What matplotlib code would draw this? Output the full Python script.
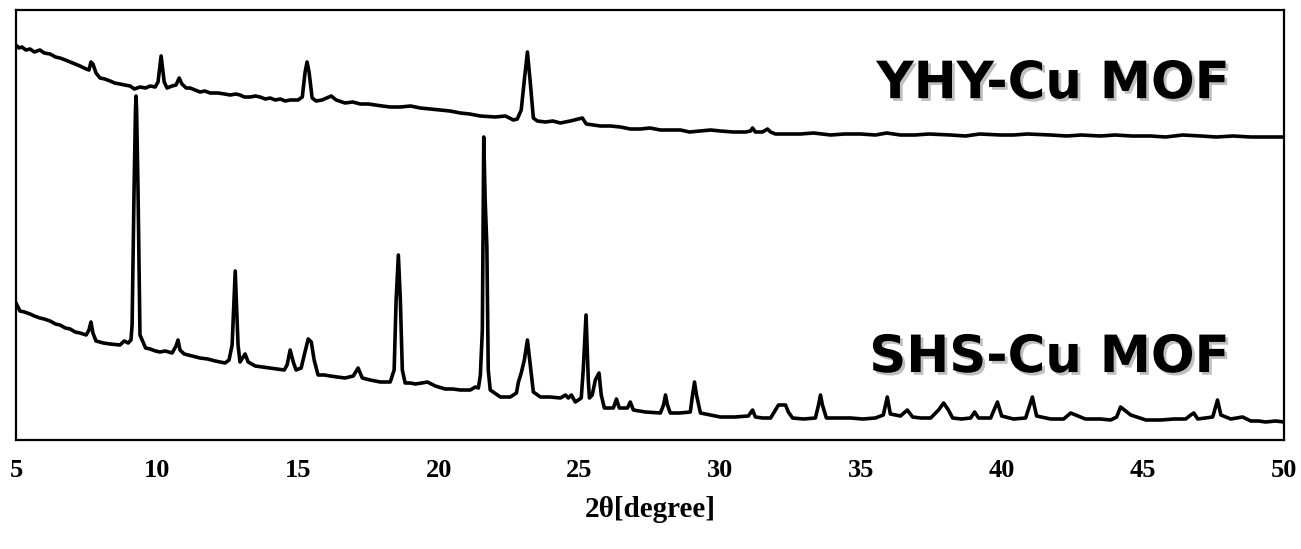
import matplotlib.pyplot as plt
import matplotlib.patheffects as pe

# 2theta [deg] and intensity [a.u.]
yhy_2theta = [5.00, 5.10, 5.21, 5.35, 5.50, 5.65, 5.85, 6.00, 6.21, 6.40, 6.56, 6.75, 6.92, 7.10,
              7.27, 7.49, 7.59, 7.66, 7.73, 7.84, 7.98, 8.15,
              8.34, 8.50, 8.69, 8.85, 9.05, 9.20, 9.40, 9.60, 9.76, 9.94, 10.04, 10.15, 10.26, 10.36,
              10.54, 10.68, 10.79,
              10.89, 11.04, 11.18, 11.35, 11.53, 11.70, 11.89, 12.17, 12.40, 12.60, 12.80, 12.95,
              13.10, 13.31, 13.50, 13.66, 13.85, 14.02, 14.20, 14.38,
              14.55, 14.73, 15.01, 15.16, 15.26, 15.33, 15.40, 15.51, 15.65, 15.86, 16.19, 16.36,
              16.68, 16.95, 17.22, 17.50, 17.75, 18.00, 18.28, 18.64, 19.00, 19.35, 19.70, 20.06,
              20.40, 20.77, 21.10, 21.48, 22.01, 22.37, 22.65, 22.79,
              22.93, 23.04, 23.15, 23.25, 23.36, 23.50, 23.79, 24.05, 24.32, 24.67, 25.10, 25.24,
              25.50, 25.74, 26.10, 26.45, 26.80, 27.16, 27.50, 27.87, 28.20, 28.58, 28.90, 29.29,
              29.65, 30.00, 30.45, 30.89, 31.07, 31.14, 31.24, 31.49, 31.67,
              31.78, 31.95, 32.40, 32.84, 33.30, 33.91, 34.40, 34.97, 35.50, 35.90, 36.39, 36.90,
              37.40, 38.17, 38.70, 39.20, 39.94, 40.40, 40.90, 41.72, 42.30, 42.80, 43.49, 44.00,
              44.60, 45.27, 45.80, 46.40, 47.05, 47.60, 48.20, 48.82, 49.40, 50.00]
yhy_int = [395, 392, 393, 390, 391, 388, 390, 387, 386, 383, 382, 380, 378, 376,
           374, 371, 370, 378, 376, 367, 362, 361,
           359, 357, 356, 355, 354, 351, 353, 352, 354, 353, 358, 384, 358, 352,
           354, 355, 362,
           356, 352, 352, 350, 348, 349, 347, 347, 346, 345, 346, 345,
           343, 343, 344, 343, 341, 342, 340, 341,
           339, 340, 340, 343, 368, 378, 368, 342, 339, 340, 344, 340,
           337, 338, 336, 336, 335, 334, 333, 333, 334, 332, 331, 330,
           329, 327, 326, 324, 323, 324, 320, 321,
           330, 360, 388, 358, 322, 319, 318, 319, 317, 319, 322, 316,
           315, 314, 314, 313, 311, 311, 312, 310, 310, 310, 308, 309,
           310, 309, 308, 308, 309, 312, 308, 308, 311,
           308, 306, 306, 306, 307, 305, 306, 306, 305, 307, 305, 305,
           306, 305, 304, 306, 305, 305, 306, 305, 304, 305, 304, 305,
           304, 304, 303, 305, 304, 303, 304, 303, 303, 303]

shs_2theta = [5.00, 5.14, 5.30, 5.50, 5.65, 5.85, 6.00, 6.21, 6.40, 6.56, 6.75, 6.92, 7.10, 7.27,
              7.49, 7.59, 7.66, 7.73, 7.84, 8.10, 8.34,
              8.69, 8.84, 8.98, 9.08, 9.12, 9.19, 9.24, 9.26, 9.28, 9.33, 9.40, 9.60, 9.76, 9.95,
              10.11, 10.30,
              10.54, 10.68, 10.75, 10.82, 10.97, 11.25, 11.53, 11.80, 12.07, 12.42, 12.56, 12.67,
              12.78, 12.88,
              12.95, 13.06, 13.13, 13.24, 13.49, 13.75, 14.02, 14.25, 14.52, 14.62, 14.73, 14.84,
              14.94, 15.12,
              15.23, 15.37, 15.48, 15.58, 15.72, 15.95, 16.15, 16.40, 16.68, 16.97, 17.14, 17.29,
              17.57, 17.93,
              18.28, 18.42, 18.49, 18.57, 18.64, 18.71, 18.81, 19.00, 19.17, 19.40, 19.60, 19.88,
              20.23, 20.50, 20.77,
              21.12, 21.30, 21.41, 21.48, 21.55, 21.60, 21.65, 21.71, 21.76, 21.83, 22.19, 22.54,
              22.76, 22.83, 22.93, 23.04, 23.15, 23.25, 23.36, 23.61, 23.95, 24.32, 24.50, 24.60,
              24.71,
              24.85, 25.06, 25.13, 25.23, 25.31, 25.35, 25.45, 25.56, 25.69, 25.77, 25.88, 26.20,
              26.31, 26.41, 26.70, 26.80, 26.91, 27.34, 27.87, 27.98, 28.05, 28.12, 28.22, 28.55,
              28.93,
              29.01, 29.08, 29.15, 29.29, 29.65, 30.00, 30.50, 30.99, 31.14, 31.24, 31.50, 31.78,
              31.95, 32.06, 32.31,
              32.41, 32.56, 32.95, 33.37, 33.48, 33.55, 33.62, 33.76, 34.20, 34.62, 35.05, 35.50,
              35.78, 35.92, 36.03,
              36.39, 36.63, 36.82, 37.10, 37.46, 37.74, 37.92, 38.09, 38.24, 38.55, 38.88, 39.02,
              39.16, 39.59,
              39.83, 39.98, 40.40, 40.83, 41.07, 41.22, 41.72, 42.18, 42.43, 42.95, 43.49, 43.85,
              44.06, 44.20,
              44.56, 45.10, 45.62, 46.10, 46.51, 46.69, 46.80, 46.94, 47.47, 47.64, 47.76, 48.11,
              48.53, 48.82, 49.10, 49.35, 49.70, 50.00]
shs_int = [137, 129, 128, 126, 124, 122, 121, 119, 116, 115, 112, 111, 108, 107,
           105, 110, 118, 107, 99, 97, 96,
           95, 99, 97, 100, 115, 250, 330, 344, 330, 250, 105, 92, 91, 89,
           88, 89,
           87, 94, 100, 90, 86, 84, 82, 81, 79, 77, 80, 95,
           169, 95,
           78, 83, 86, 78, 74, 73, 72, 71, 70, 75, 90, 78,
           70, 72,
           85, 101, 98, 80, 65, 65, 64, 63, 62, 64, 72, 62,
           60, 58,
           58, 70, 140, 185, 140, 70, 57, 57, 56, 57, 58, 54,
           51, 51, 50,
           50, 53, 52, 65, 110, 303, 240, 194, 70, 50, 43, 43,
           47, 58, 67, 80, 100, 75, 48, 43, 43, 42, 45, 42,
           45,
           38, 42, 70, 125, 60, 42, 45, 60, 67, 45, 32, 32,
           41, 32, 32, 38, 30, 28, 27, 35, 45, 35, 27, 27,
           28,
           45, 58, 45, 27, 25, 23, 23, 24, 30, 23, 22, 22,
           30, 35, 35,
           28, 22, 21, 22, 35, 45, 35, 22, 22, 22, 21, 22,
           25, 43, 26,
           24, 30, 23, 22, 22, 30, 37, 30, 22, 21, 22, 28,
           22, 22,
           38, 24, 21, 22, 43, 24, 21, 21, 27, 21, 21, 20,
           23, 33,
           25, 20, 20, 21, 21, 25, 27, 21, 23, 40, 25, 21,
           23, 19, 19, 18, 19, 18]

x_ticks = [5, 10, 15, 20, 25, 30, 35, 40, 45, 50]

fig = plt.figure(figsize=(13.01, 5.49), dpi=100)
ax = fig.add_axes([16 / 1301, 109 / 549, 1268 / 1301, 430 / 549])

ax.plot(yhy_2theta, yhy_int, color='black', lw=2.6, solid_joinstyle='round')
ax.plot(shs_2theta, shs_int, color='black', lw=2.6, solid_joinstyle='round')

ax.set_xlim(5, 50)
ax.set_ylim(0, 430)
ax.set_yticks([])
ax.set_xticks(x_ticks)
ax.tick_params(axis='x', length=0, pad=14)
for lab in ax.get_xticklabels():
    lab.set_fontfamily('Liberation Serif')
    lab.set_fontweight('bold')
    lab.set_fontsize(19)
ax.set_xlabel('2θ[degree]', fontfamily='Liberation Serif', fontweight='bold',
              fontsize=21, labelpad=10)
for sp in ax.spines.values():
    sp.set_linewidth(1.6)
    sp.set_color('black')

shadow = [pe.withSimplePatchShadow(offset=(2, -2), shadow_rgbFace='gray', alpha=0.5)]
ax.text(0.957, 0.795, 'YHY-Cu MOF', transform=ax.transAxes, ha='right', va='baseline',
        fontfamily='DejaVu Sans', fontweight='bold', fontsize=37, path_effects=shadow)
ax.text(0.957, 0.158, 'SHS-Cu MOF', transform=ax.transAxes, ha='right', va='baseline',
        fontfamily='DejaVu Sans', fontweight='bold', fontsize=37, path_effects=shadow)

fig.savefig('out.png', dpi=100)
